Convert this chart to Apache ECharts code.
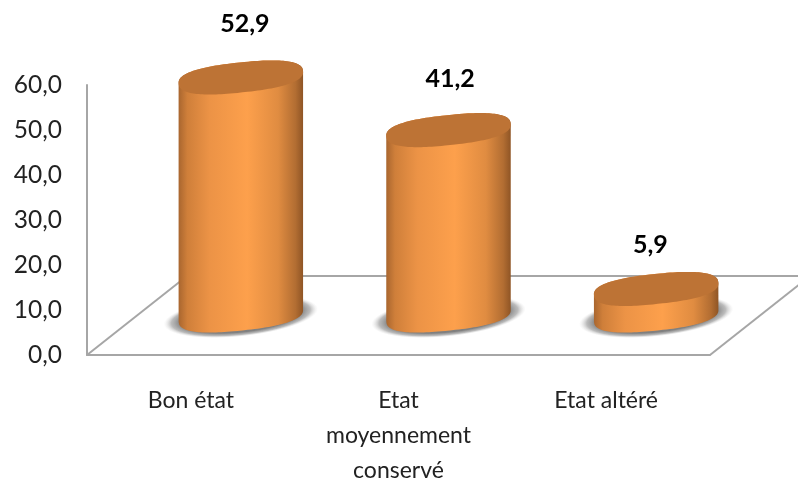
<!DOCTYPE html>
<html>
<head>
<meta charset="utf-8">
<style>html,body{margin:0;padding:0;background:#fff}#c{width:798px;height:481px}</style>
<script src="https://cdn.jsdelivr.net/npm/echarts@6/dist/echarts.min.js"></script>
</head>
<body>
<div id="c"></div>
<script>
const categories = ['Bon état', 'Etat\nmoyennement\nconservé', 'Etat altéré'];
const values = [52.9, 41.2, 5.9];
const fmt = v => Number(v).toFixed(1).replace('.', ',');

const DEPTH = [100, -79];
const A = 62.5, B = 15, TH = -6 * Math.PI / 180, EXP = 2 / 2.5, N = 144;
const sp = c => Math.sign(c) * Math.pow(Math.abs(c), EXP);
const ring = (cx, cy, a, b) => {
  const p = [];
  for (let i = 0; i < N; i++) {
    const t = i / N * 2 * Math.PI, u = a * sp(Math.cos(t)), w = b * sp(Math.sin(t));
    p.push([cx + u * Math.cos(TH) - w * Math.sin(TH), cy + u * Math.sin(TH) + w * Math.cos(TH)]);
  }
  return p;
};
const bodyPoints = (cx, top, bot) => {
  const lo = ring(cx, bot, A, B), hi = ring(cx, top, A, B);
  let iMax = 0, iMin = 0;
  lo.forEach((q, i) => { if (q[0] > lo[iMax][0]) iMax = i; if (q[0] < lo[iMin][0]) iMin = i; });
  const p = [];
  for (let i = iMax; i !== iMin; i = (i + 1) % N) p.push(lo[i]);
  p.push(lo[iMin]);
  for (let i = iMin; i !== iMax; i = (i + 1) % N) p.push(hi[i]);
  p.push(hi[iMax]);
  return p;
};

function renderFloor(params, api) {
  const cs = params.coordSys;
  const y0 = cs.y + cs.height, x0 = cs.x, x1 = cs.x + cs.width;
  const line = (a, b, c, d) => ({
    type: 'line', shape: { x1: a, y1: b, x2: c, y2: d },
    style: { stroke: '#a6a6a6', lineWidth: 2 }
  });
  return { type: 'group', children: [
    line(x0, y0, x0 + DEPTH[0], y0 + DEPTH[1]),
    line(x1, y0, x1 + DEPTH[0], y0 + DEPTH[1]),
    line(x0 + DEPTH[0], y0 + DEPTH[1], x1 + DEPTH[0], y0 + DEPTH[1])
  ]};
}

function renderCyl(params, api) {
  const v = api.value(1);
  const top = api.coord([api.value(0), v]);
  const bot = api.coord([api.value(0), 0]);
  const cx = top[0] + DEPTH[0] / 2;
  const ty = top[1] + DEPTH[1] / 2;
  const by = bot[1] + DEPTH[1] / 2;
  return { type: 'group', children: [
    { type: 'circle', shape: { cx: 0, cy: 0, r: 10 }, x: cx, y: by + 1,
      scaleX: (A + 15) / 10, scaleY: (B + 5) / 10, rotation: -TH,
      style: { fill: { type: 'radial', x: 0.5, y: 0.5, r: 0.5, colorStops: [
        { offset: 0, color: '#777777' },
        { offset: 0.78, color: '#808080' },
        { offset: 0.9, color: 'rgba(165,165,165,0.75)' },
        { offset: 1, color: 'rgba(220,220,220,0)' }
      ]}}},
    { type: 'polygon', shape: { points: bodyPoints(cx, ty, by) },
      style: { fill: { type: 'linear', x: 0, y: 0, x2: 1, y2: 0, colorStops: [
        { offset: 0, color: '#a9662f' },
        { offset: 0.07, color: '#cf7f3a' },
        { offset: 0.25, color: '#ec9346' },
        { offset: 0.55, color: '#fda04c' },
        { offset: 0.8, color: '#e08c41' },
        { offset: 0.94, color: '#b26d32' },
        { offset: 1, color: '#8f5525' }
      ]}}},
    { type: 'polygon', shape: { points: ring(cx, ty, A, B) },
      style: { fill: '#bd7335' } },
    { type: 'text', style: {
        x: cx - 7 + v * 0.21, y: ty - (43 + v * 0.2),
        text: fmt(v), align: 'center', verticalAlign: 'middle',
        font: 'bold 25px Lato, "Open Sans", sans-serif', fill: '#000'
      }}
  ]};
}

const chart = echarts.init(document.getElementById('c'));
chart.setOption({
  animation: false,
  grid: { left: 87, top: 85, width: 623, height: 270, outerBoundsMode: 'none' },
  xAxis: {
    type: 'category', data: categories,
    axisLine: { lineStyle: { color: '#a6a6a6', width: 2 } },
    axisTick: { show: false },
    axisLabel: { interval: 0, margin: 28, color: '#222', fontSize: 23, lineHeight: 35,
      fontFamily: 'Lato, "Open Sans", sans-serif' }
  },
  yAxis: {
    type: 'value', min: 0, max: 60, interval: 10,
    splitLine: { show: false },
    axisLine: { show: true, lineStyle: { color: '#a6a6a6', width: 2 } },
    axisTick: { show: false },
    axisLabel: { margin: 25, color: '#222', fontSize: 24.5, formatter: fmt,
      fontFamily: 'Lato, "Open Sans", sans-serif' }
  },
  series: [
    { type: 'custom', clip: false, silent: true, data: [0], renderItem: renderFloor, z: 1 },
    { type: 'custom', clip: false, silent: true, z: 2,
      data: values.map((v, i) => [i, v]),
      encode: { x: 0, y: 1 },
      renderItem: renderCyl }
  ]
});
</script>
</body>
</html>
